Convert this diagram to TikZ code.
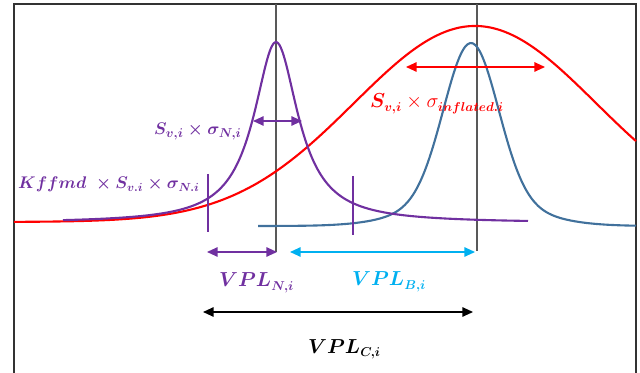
\documentclass[tikz,border=0pt]{standalone}
\usepackage{amsmath}
\usepackage{xcolor}
\usepackage{tikz}
\usetikzlibrary{arrows.meta}
\definecolor{sigpurple}{HTML}{7030A0}
\definecolor{inflred}{HTML}{FF0000}
\definecolor{bcurve}{HTML}{41719C}
\definecolor{vplcyan}{HTML}{00B0F0}

\begin{document}
\begin{tikzpicture}[x=0.03cm, y=-0.03cm, >={Triangle[length=9pt,width=8pt]},
  curve/.style={line width=1.8pt},
  dim/.style={<->, line width=1.2pt},
  guide/.style={draw=black!65, line width=0.9pt},
  tick/.style={draw=sigpurple, line width=1.3pt},
  lbl/.style={anchor=base west, inner sep=0pt, font=\fontsize{15}{18}\selectfont},
  vpl/.style={anchor=base west, inner sep=0pt, font=\fontsize{16}{19}\selectfont}]
\useasboundingbox (0,0) rectangle (640,373);
\draw[black!80, line width=1pt] (14,373) -- (14,4) -- (636,4) -- (636,373);
% mean lines
\coordinate (nTop) at (276,4);
\coordinate (nFoot) at (276,252);
\coordinate (bTop) at (477,4);
\coordinate (bFoot) at (477,251);
\draw[guide] (nTop) -- (nFoot);
\draw[guide] (bTop) -- (bFoot);
% distributions
\draw[curve, inflred] plot[domain=14:636, samples=120, smooth] (\x, {222-196*exp(-0.5*((\x-475)/121)^2)});
\draw[curve, bcurve] plot[domain=258:636, samples=140, smooth] (\x, {226-183*(0.85*exp(-0.5*((\x-471)/27)^2)+0.15*exp(-0.5*((\x-471)/55)^2))});
\draw[curve, sigpurple] plot[domain=63:528, samples=160, smooth] (\x, {223-181/(1+((\x-276)/27)^2)});
% kffmd limits
\coordinate (kLoTop) at (208,174);
\coordinate (kLoBot) at (208,232);
\coordinate (kHiTop) at (353,176);
\coordinate (kHiBot) at (353,235);
\draw[tick] (kLoTop) -- (kLoBot);
\draw[tick] (kHiTop) -- (kHiBot);
% spreads
\coordinate (sNl) at (253,121);
\coordinate (sNr) at (302,121);
\coordinate (sIl) at (406,67);
\coordinate (sIr) at (545,67);
\draw[dim, sigpurple] (sNl) -- (sNr);
\draw[dim, inflred] (sIl) -- (sIr);
% protection levels
\coordinate (vNl) at (207,252);
\coordinate (vNr) at (277,252);
\coordinate (vBl) at (290,252);
\coordinate (vBr) at (475,252);
\coordinate (vCl) at (203,312);
\coordinate (vCr) at (473,312);
\draw[dim, sigpurple] (vNl) -- (vNr);
\draw[dim, vplcyan] (vBl) -- (vBr);
\draw[dim, black] (vCl) -- (vCr);
\node[lbl, text=sigpurple] (sigN) at (154,135) {$\boldsymbol{S_{v,i}\times\sigma_{N,i}}$};
\node[lbl, text=sigpurple, font=\fontsize{14}{17}\selectfont] (kffmd) at (18,189) {$\boldsymbol{Kffmd\ \times S_{v.i}\times\sigma_{N.i}}$};
\node[lbl, text=inflred, font=\fontsize{16}{19}\selectfont] (sigI) at (370,108) {$\boldsymbol{S_{v,i}}\times\sigma_{\boldsymbol{inflated.i}}$};
\node[vpl, text=sigpurple] (vplN) at (219,287) {$\boldsymbol{VPL_{N,i}}$};
\node[vpl, text=vplcyan] (vplB) at (352,286) {$\boldsymbol{VPL_{B,i}}$};
\node[vpl, text=black] (vplC) at (308,353) {$\boldsymbol{VPL_{C,i}}$};
\end{tikzpicture}
\end{document}
